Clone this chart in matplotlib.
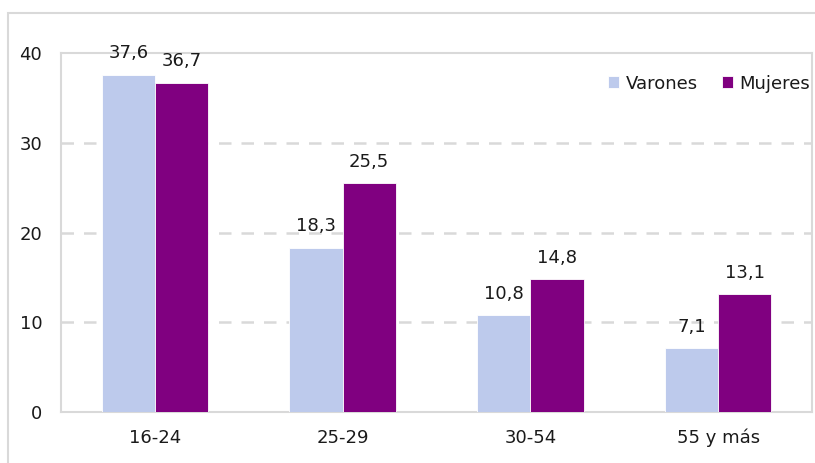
import numpy as np
import matplotlib.pyplot as plt
from matplotlib.patches import Rectangle

categories = ["16-24", "25-29", "30-54", "55 y más"]
varones = [37.6, 18.3, 10.8, 7.1]
mujeres = [36.7, 25.5, 14.8, 13.1]

W, H = 815, 463
fig = plt.figure(figsize=(W / 100, H / 100), dpi=100)
plt.rcParams['font.family'] = ['DejaVu Sans']

# plot area in pixels: x 61..812, y 53..412
ax = fig.add_axes([61 / W, (H - 412) / H, (812 - 61) / W, (412 - 53) / H])

grid_c = "#D9D9D9"
txt_c = "#1a1a1a"
fs = 13
x = np.arange(len(categories))
bw = 0.283
b1 = ax.bar(x - bw / 2, varones, bw, color="#BDCAEC", edgecolor="white", linewidth=0.6, label="Varones", zorder=3)
b2 = ax.bar(x + bw / 2, mujeres, bw, color="#800080", edgecolor="white", linewidth=0.6, label="Mujeres", zorder=3)

for bars in (b1, b2):
    for b in bars:
        h = b.get_height()
        ax.annotate(f"{h:.1f}".replace(".", ","), (b.get_x() + b.get_width() / 2, h),
                    xytext=(0, 9), textcoords="offset points", ha="center", va="bottom",
                    fontsize=fs, color=txt_c, zorder=4)

ax.set_xlim(-0.5, len(categories) - 0.5)
ax.set_ylim(0, 40)
ax.set_yticks([0, 10, 20, 30, 40])
ax.set_xticks(x)
ax.set_xticklabels(categories)
ax.tick_params(length=0, labelsize=fs, colors=txt_c)
ax.tick_params(axis="y", pad=13.5)
ax.tick_params(axis="x", pad=12)

for y in (10, 20, 30):
    ax.axhline(y, color=grid_c, linestyle=(0, (5, 4)), linewidth=1.8, zorder=1)

for s in ax.spines.values():
    s.set_color(grid_c)
    s.set_linewidth(1.5)

leg = ax.legend(loc="upper right", bbox_to_anchor=(0.998, 0.94), ncol=2, frameon=False,
                fontsize=fs, handlelength=0.6, handleheight=0.6, handletextpad=0.4,
                columnspacing=1.3, borderaxespad=0, borderpad=0)
for t in leg.get_texts():
    t.set_color(txt_c)

# outer chart border
fig.patches.append(Rectangle((8 / W, -0.05), 1.0, (H - 13) / H + 0.05, transform=fig.transFigure,
                             fill=False, edgecolor=grid_c, linewidth=1.5, clip_on=False))

fig.savefig("out.png", dpi=100, facecolor="white")
